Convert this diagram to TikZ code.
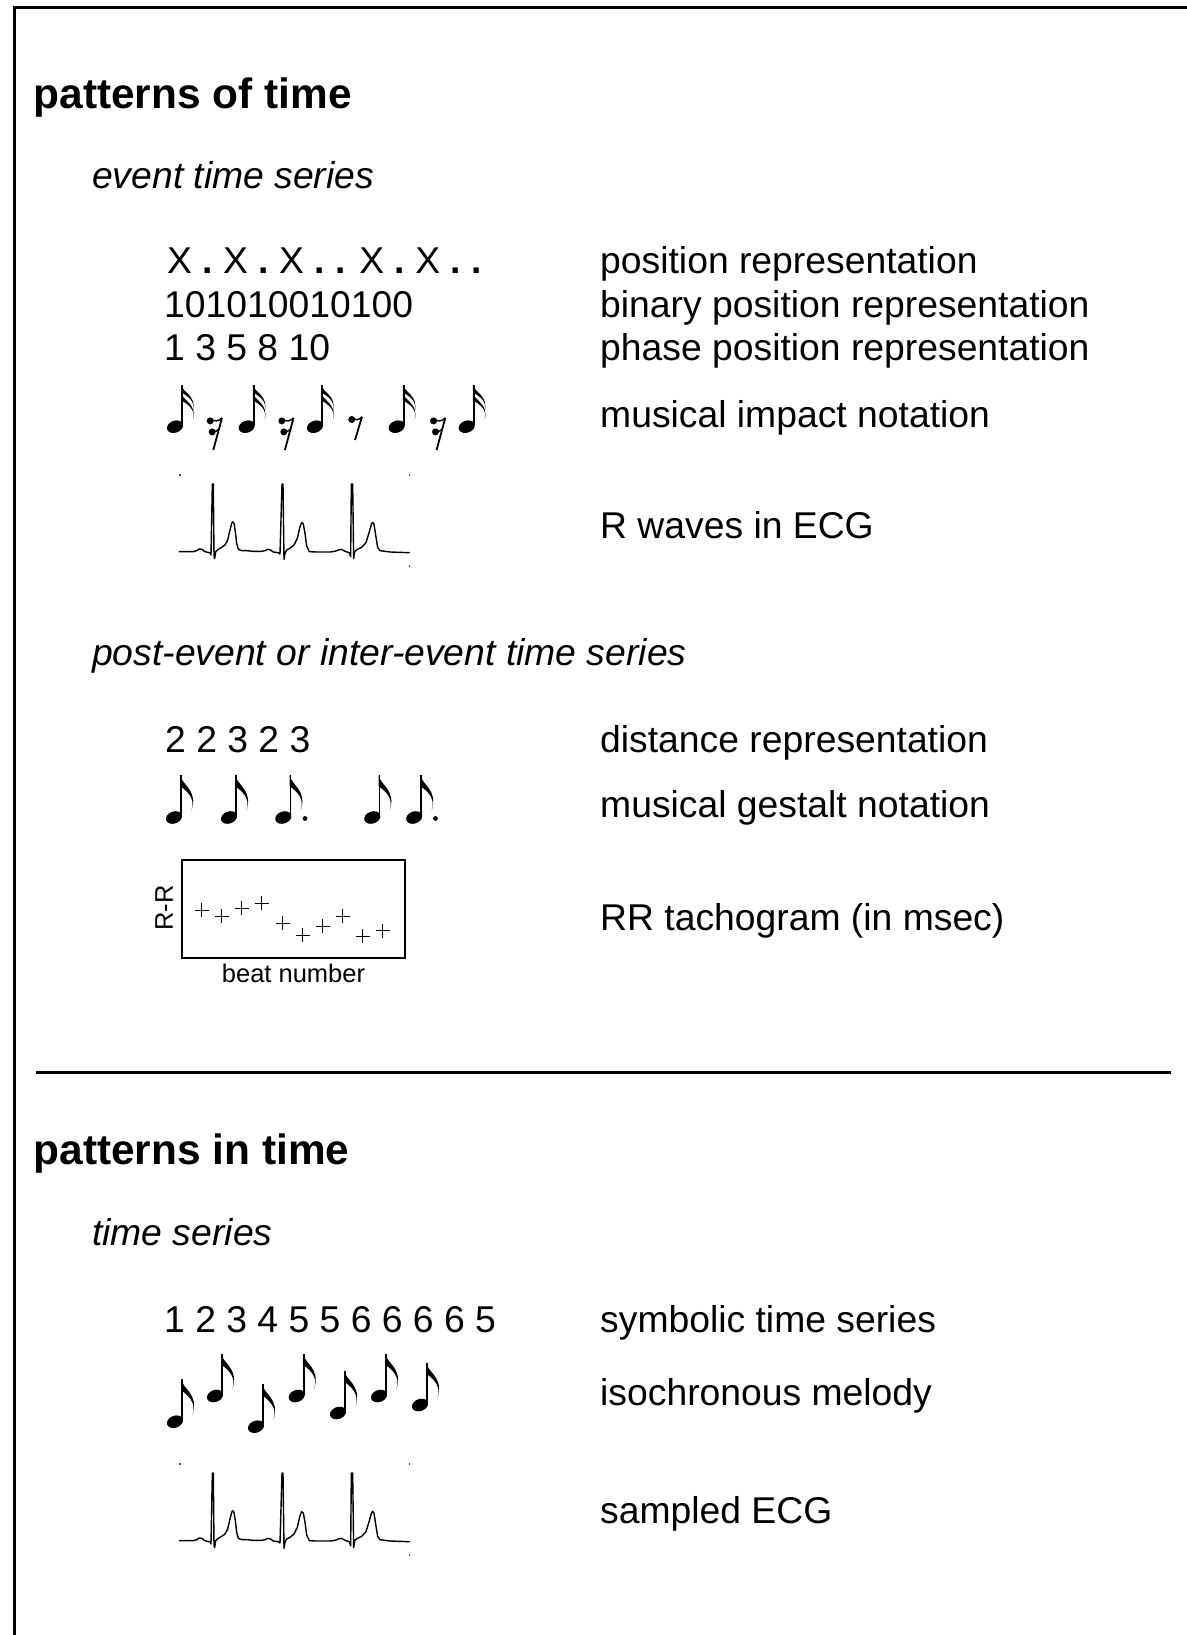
\documentclass[tikz,border=0pt]{standalone}
\usepackage{fontspec}
\setmainfont{Liberation Sans}
\tikzset{
  lbl/.style={anchor=base west, inner sep=0pt, font=\fontsize{37.3}{44}\selectfont},
  ttl/.style={anchor=base west, inner sep=0pt, font=\fontsize{42.4}{50}\selectfont\bfseries},
  sub/.style={anchor=base west, inner sep=0pt, font=\fontsize{37.3}{44}\selectfont\itshape},
  small/.style={inner sep=0pt, font=\fontsize{25.5}{30}\selectfont},
  framestyle/.style={line width=3pt},
  ecgline/.style={line width=1.4pt, line join=round, line cap=round},
  pics/eighthnote/.style={code={
    \fill[rotate=20] (0,0) ellipse [x radius=8.3pt, y radius=6pt];
    \draw[line width=1.6pt] (7,-1.5) -- (7,-42.5);
    \fill (6.2,-42.5) .. controls (8,-32) and (24,-28) .. (17.5,-7)
          .. controls (21.5,-20) and (13,-26) .. (6.2,-31.5) -- cycle;
  }},
  pics/sixteenthnote/.style={code={
    \fill[rotate=20] (0,0) ellipse [x radius=8.3pt, y radius=6pt];
    \draw[line width=1.6pt] (7,-1.5) -- (7,-41.7);
    \fill (6.2,-41.7) .. controls (8,-34) and (22,-31) .. (18,-15)
          .. controls (20.5,-26) and (13,-30) .. (6.2,-34.5) -- cycle;
    \fill (6.2,-33.5) .. controls (8,-26) and (22,-23) .. (18,-7)
          .. controls (20.5,-18) and (13,-22) .. (6.2,-26.5) -- cycle;
  }},
  pics/srest/.style={code={
    \fill (-11.5,2.6) circle[radius=3.5pt];
    \draw[line width=1.4pt] (-11.5,0.2) .. controls (-7,4) and (-3,3) .. (0.3,-0.5);
    \fill (-9.5,13.6) circle[radius=3.5pt];
    \draw[line width=1.4pt] (-9.5,11.2) .. controls (-6.5,14) and (-4.5,13) .. (-2.9,10.8);
    \draw[line width=1.8pt] (0.3,-0.5) -- (-8.4,31.7);
  }},
  pics/erest/.style={code={
    \fill (-10,2.2) circle[radius=3.5pt];
    \draw[line width=1.4pt] (-10,-0.2) .. controls (-6,3.5) and (-3,3) .. (0.3,-0.5);
    \draw[line width=1.8pt] (0.3,-0.5) -- (-6.7,22.7);
  }},
  pics/pmark/.style={code={
    \draw[line width=1pt] (-7,0) -- (7,0) (0,-7) -- (0,7);
  }},
  pics/ecgtrace/.style={code={
    \draw[ecgline] (88,275) -- (130,275) -- (140,272) -- (148,267) -- (156,268) -- (163,274)
      -- (172,277) -- (180,278) -- (183,285) -- (187,72) -- (190,72) -- (192,290) -- (194,296)
      -- (197,275) -- (205,268) -- (215,262) -- (225,255) -- (233,240) -- (240,210) -- (245,190)
      -- (248,185) -- (252,190) -- (256,215) -- (260,250) -- (265,268) -- (275,272) -- (290,272)
      -- (310,274) -- (335,274) -- (345,272) -- (353,268) -- (362,270) -- (370,276) -- (385,278)
      -- (390,282) -- (396,72) -- (399,72) -- (402,298) -- (405,280) -- (410,270) -- (420,265)
      -- (432,255) -- (442,235) -- (450,200) -- (455,188) -- (460,192) -- (465,220) -- (470,258)
      -- (478,275) -- (500,276) -- (540,276) -- (555,274) -- (565,270) -- (575,268) -- (585,274)
      -- (598,278) -- (602,290) -- (604,72) -- (608,72) -- (611,296) -- (614,275) -- (622,268)
      -- (635,262) -- (648,248) -- (658,215) -- (665,190) -- (668,187) -- (672,192) -- (677,225)
      -- (683,262) -- (690,272) -- (720,276) -- (778,278);
    \fill[black!70] (87.5,42.5) rectangle (92.5,47.5);
    \fill[black!70] (775.5,42.5) rectangle (780.5,47.5);
    \fill[black!70] (775.5,315.5) rectangle (780.5,320.5);
  }}
}
\begin{document}
\begin{tikzpicture}[x=1pt,y=-1pt]
\useasboundingbox (0,0) rectangle (1186,1635);
% frame
\draw[framestyle] (1190,7.7) -- (14.7,7.7) -- (14.7,1640);
\coordinate (sepL) at (36,1072);
\coordinate (sepR) at (1171,1072);
\draw[framestyle] (sepL) -- (sepR);

% ---------- patterns of time ----------
\node[ttl] (t1) at (33.5,108.5) {patterns of time};
\node[sub] (s1) at (92,188) {event time series};

\node[lbl] (xpos) at (167,273) {X \textbf{.} X \textbf{.} X \textbf{.} \textbf{.} X \textbf{.} X \textbf{.} \textbf{.}};
\node[lbl] (bin) at (164,317) {101010010100};
\node[lbl] (phase) at (164,360) {1 3 5 8 10};
\node[lbl] (lpos) at (600,273) {position representation};
\node[lbl] (lbin) at (600,317) {binary position representation};
\node[lbl] (lphase) at (600,360) {phase position representation};

% musical impact notation
\pic at (175,426.7) {sixteenthnote};
\pic at (221.7,418.3) {srest};
\pic at (246.7,426.7) {sixteenthnote};
\pic at (293.3,418.3) {srest};
\pic at (315,426.7) {sixteenthnote};
\pic at (361.7,417.3) {erest};
\pic at (396.7,426.7) {sixteenthnote};
\pic at (445,418.3) {srest};
\pic at (466.7,426.7) {sixteenthnote};
\node[lbl] (limpact) at (600,427) {musical impact notation};

% R waves in ECG
\begin{scope}[shift={(150pt,-460pt)}, x=0.33333pt, y=-0.33333pt]
  \pic {ecgtrace};
\end{scope}
\node[lbl] (lrw) at (600,538) {R waves in ECG};

\node[sub] (s2) at (92,665) {post-event or inter-event time series};
\node[lbl] (dist) at (165,752) {2 2 3 2 3};
\node[lbl] (ldist) at (600,752) {distance representation};

% musical gestalt notation
\pic at (174,817.5) {eighthnote};
\pic at (229,817.5) {eighthnote};
\pic at (283.3,817.5) {eighthnote};
\fill (305,818.5) circle[radius=2.4pt];
\pic at (372.3,817.5) {eighthnote};
\pic at (414.2,817.5) {eighthnote};
\fill (435.5,818.5) circle[radius=2.4pt];
\node[lbl] (lgest) at (600,817) {musical gestalt notation};

% RR tachogram
\node[draw, line width=1.5pt, minimum width=223pt, minimum height=98pt, inner sep=0pt] (rrbox) at (293.5,909) {};
\pic at (201.7,910) {pmark};
\pic at (221.7,916) {pmark};
\pic at (241.7,908.3) {pmark};
\pic at (261.7,903.3) {pmark};
\pic at (282.7,923.3) {pmark};
\pic at (302.7,935) {pmark};
\pic at (322.7,926) {pmark};
\pic at (342.7,916) {pmark};
\pic at (362.7,936) {pmark};
\pic at (382.7,930.7) {pmark};
\node[small, rotate=90] (rry) at (164,908) {R-R};
\node[small, anchor=base] (rrx) at (293.5,982) {beat number};
\node[lbl] (lrr) at (600,930) {RR tachogram (in msec)};

% ---------- patterns in time ----------
\node[ttl] (t2) at (33.5,1164) {patterns in time};
\node[sub] (s3) at (92,1245) {time series};
\node[lbl] (sym) at (164,1332) {1 2 3 4 5 5 6 6 6 6 5};
\node[lbl] (lsym) at (600,1332) {symbolic time series};

% isochronous melody
\pic at (175,1421.7) {eighthnote};
\pic at (215,1396) {eighthnote};
\pic at (256,1426.7) {eighthnote};
\pic at (296.7,1396) {eighthnote};
\pic at (338,1413) {eighthnote};
\pic at (379,1396) {eighthnote};
\pic at (420,1405) {eighthnote};
\node[lbl] (liso) at (600,1405) {isochronous melody};

% sampled ECG
\begin{scope}[shift={(150pt,-1449pt)}, x=0.33333pt, y=-0.33333pt]
  \pic {ecgtrace};
\end{scope}
\node[lbl] (lsecg) at (600,1523) {sampled ECG};
\end{tikzpicture}
\end{document}
